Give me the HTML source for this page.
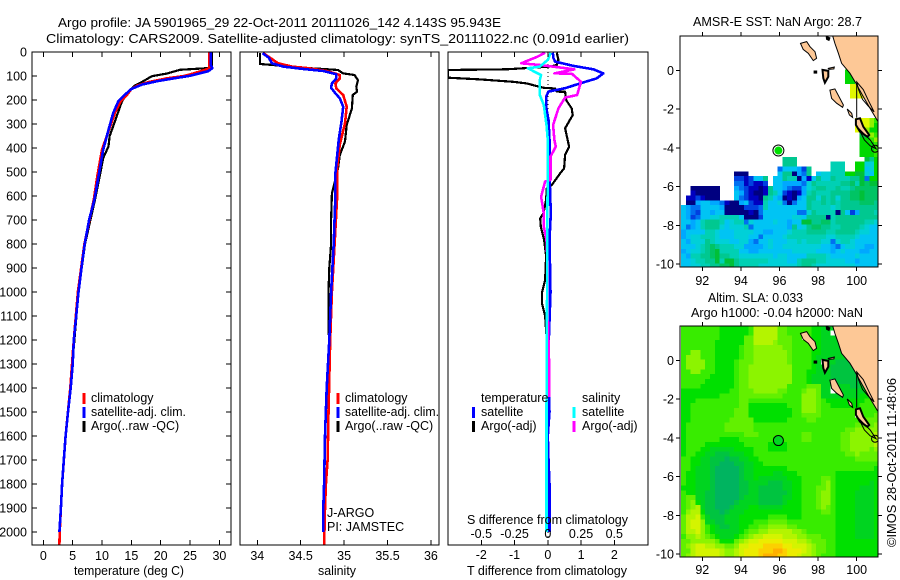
<!DOCTYPE html>
<html>
<head>
<meta charset="utf-8">
<title>Argo profile</title>
<style>
html,body{margin:0;padding:0;background:#fff;}
svg{display:block;}
text{font-family:"Liberation Sans",sans-serif;font-size:12.5px;fill:#000;}
text.big{font-size:13px;}
</style>
</head>
<body>
<svg id="chart" xmlns="http://www.w3.org/2000/svg" width="900" height="580" viewBox="0 0 900 580">
<defs>
<clipPath id="clip-diff"><rect x="448" y="52" width="200" height="493"/></clipPath>
<clipPath id="clip-map1"><rect x="680" y="36" width="198" height="231"/></clipPath>
<clipPath id="clip-map2"><rect x="680" y="326" width="198" height="231"/></clipPath>
</defs>
<rect x="0" y="0" width="900" height="580" fill="#fff"/>
<text class="big" x="58" y="27" textLength="443" lengthAdjust="spacingAndGlyphs">Argo profile: JA 5901965_29 22-Oct-2011 20111026_142 4.143S 95.943E</text>
<text class="big" x="46" y="43" textLength="583" lengthAdjust="spacingAndGlyphs">Climatology: CARS2009. Satellite-adjusted climatology: synTS_20111022.nc (0.091d earlier)</text>
<g id="layer-map1"></g>
<g id="layer-map2"></g>
<g id="layer-temp"></g>
<g id="layer-sal"></g>
<g id="layer-diff"></g>
<text x="74" y="575" textLength="110" lengthAdjust="spacingAndGlyphs">temperature (deg C)</text>
<text x="318" y="575" textLength="38" lengthAdjust="spacingAndGlyphs">salinity</text>
<text x="467" y="575" textLength="160" lengthAdjust="spacingAndGlyphs">T difference from climatology</text>
<text x="467" y="524" textLength="161" lengthAdjust="spacingAndGlyphs">S difference from climatology</text>
<text x="91" y="402">climatology</text>
<text x="91" y="416" textLength="95" lengthAdjust="spacingAndGlyphs">satellite-adj. clim.</text>
<text x="91" y="430">Argo(..raw -QC)</text>
<text x="345" y="402">climatology</text>
<text x="345" y="416" textLength="94" lengthAdjust="spacingAndGlyphs">satellite-adj. clim.</text>
<text x="345" y="430">Argo(..raw -QC)</text>
<text x="327" y="517">J-ARGO</text>
<text x="327" y="531">PI: JAMSTEC</text>
<text x="481" y="402">temperature</text>
<text x="582" y="402">salinity</text>
<text x="481" y="416">satellite</text>
<text x="582" y="416">satellite</text>
<text x="481" y="430">Argo(-adj)</text>
<text x="582" y="430">Argo(-adj)</text>
<text x="693" y="26" textLength="169" lengthAdjust="spacingAndGlyphs">AMSR-E SST: NaN Argo: 28.7</text>
<text x="708" y="302" textLength="95" lengthAdjust="spacingAndGlyphs">Altim. SLA: 0.033</text>
<text x="691" y="317" textLength="172" lengthAdjust="spacingAndGlyphs">Argo h1000: -0.04 h2000: NaN</text>
<text transform="translate(896,547) rotate(-90)" textLength="169" lengthAdjust="spacingAndGlyphs">©IMOS 28-Oct-2011 11:48:06</text>
</svg>
<script>
/* ---------- chart data ---------- */
const depthTicks = [0,100,200,300,400,500,600,700,800,900,1000,1100,1200,1300,1400,1500,1600,1700,1800,1900,2000];
const tempTicks = [0,5,10,15,20,25,30];
const salTicks = [34,34.5,35,35.5,36];
const salTickLabels = ['34','34.5','35','35.5','36'];
const diffTempTicks = [-2,-1,0,1,2];
const diffSalTicks = [-0.5,-0.25,0,0.25,0.5];
const diffSalLabels = ['-0.5','-0.25','0','0.25','0.5'];
const lonTicks = [92,94,96,98,100];
const latTicks = [0,-2,-4,-6,-8,-10];

const tempClimDepth = [0,67,75,90,100,110,125,140,155,180,205,254,324,407,518,615,800,1000,1200,1400,1600,1800,2000,2054];
const tempClim = [28.3,28.3,27.5,25.5,24,21,18,16,15,14.2,13.2,12.2,11.2,10.0,9.2,8.6,7.0,5.9,5.2,4.6,3.8,3.2,2.8,2.75];
const tempArgoDepth = [0,60,67,74,90,101,122,140,164,205,289,351,393,442,518,615,800,1000,1200,1450];
const tempArgo = [28.7,28.7,28.1,23.3,21,18.5,17,15.6,14.5,13.4,12.2,11.3,11.1,10.2,9.6,8.8,7.1,6.0,5.3,4.4];
const tempSatDepth = [0,53,67,80,99,110,122,136,154,178,205,254,324,407,518,615,700,800,900,1000,1100,1200,1300,1400,1500,1600,1700,1800,1900,2000];
const tempSat = [28.5,28.5,28.8,28.1,25,22.2,19.3,16.8,15,13.9,12.8,11.9,11.1,10.2,9.4,8.7,7.8,7.05,6.5,6.0,5.6,5.2,5.0,4.66,4.2,3.8,3.5,3.2,3.0,2.75];

const salClimDepth = [5,47,61,68,79,96,110,131,152,179,228,297,385,485,600,800,1000,1200,1500,1700,1800,1900,2054];
const salClim = [34.07,34.24,34.4,34.6,34.8,34.95,34.95,34.9,34.91,34.99,35.03,35.01,34.95,34.92,34.92,34.89,34.86,34.84,34.82,34.81,34.79,34.78,34.77];
const salArgoDepth = [5,50,54,65,71,75,89,96,117,145,165,179,235,304,373,429,485,590,700,800,900,1000,1100,1180];
const salArgo = [34.03,34.03,34.18,34.49,34.76,34.93,34.99,35.12,35.16,35.14,35.15,35.1,35.09,35.03,35.01,34.95,34.93,34.86,34.85,34.85,34.83,34.82,34.82,34.82];
const salSatDepth = [5,23,47,61,71,79,93,110,131,149,172,193,228,290,360,429,505,600,800,1000,1200,1400,1600,1800,1900,2000];
const salSat = [34.06,34.13,34.17,34.3,34.53,34.76,34.91,34.91,34.86,34.85,34.9,34.95,34.99,34.97,34.94,34.92,34.9,34.9,34.88,34.85,34.83,34.8,34.78,34.77,34.76,34.76];

const diffTempSatDepth = [3,26,40,58,72,89,110,131,151,165,186,228,283,367,506,672,783,1000,1200,1400,1500,1600,1700,1800,2000];
const diffTempSat = [0.15,0.17,0.22,0.77,1.37,1.67,1.47,0.97,0.52,0.02,-0.05,-0.05,0.02,0.05,0.05,0.09,0.05,0.08,0.03,0.03,0.05,0,0.02,0.05,0.05];
const diffTempArgoDepth = [3,33,54,61,72,75,107,114,124,131,149,152,165,166,200,235,263,318,394,429,485,506,554,568,617,672,693,728,783,850,950,1000,1050,1100,1200,1300,1500,1617];
const diffTempArgo = [0.27,0.32,0.27,0.07,-1.24,-3,-3,-2.04,-1.04,-0.64,-0.13,0.22,0.27,0.52,0.55,0.72,0.75,0.52,0.64,0.52,0.49,0.37,0.12,-0.03,-0.05,-0.13,-0.23,-0.21,-0.11,-0.05,-0.08,-0.17,-0.17,-0.08,-0.03,0,0.02,0];
const diffSalSatDepth = [3,20,33,61,68,96,117,179,221,304,367,506,783,1000,1500,2000];
const diffSalSat = [0.02,0.01,0,-0.06,-0.15,-0.05,-0.06,-0.06,-0.03,-0.01,0,0,-0.005,-0.005,-0.01,-0.01];
const diffSalArgoDepth = [3,20,47,54,72,89,90,124,179,190,235,304,367,394,436,533,540,603,672,728,783,900,1100,1300,1437];
const diffSalArgo = [-0.02,-0.08,-0.2,-0.06,0.2,0.05,0.18,0.25,0.22,0.13,0.08,0.04,0.05,0.06,0.02,0.02,-0.02,-0.05,-0.03,-0.03,-0.01,0,0,0.01,0.01];

/* map grids: one character per 0.25 degree cell, '.' = no data */
const sstRows = [
"","","","","","","",
".......... .......... .......... ....bb",
".......... .......... .......... ....bb",
".......... .......... .......... ....bb",
".......... .......... .......... .....eee",
".......... .......... .......... .....eee",
".......... .......... .......... .....eee",
"","","","",
".......... .......... .......... ......eeed c",
".......... .......... .......... ......eeed b",
".......... .......... .......... ......e.db b",
".......... .......... .......... .......a9d c",
".......... .......... .......... .......bbc d",
".......... .......... .......... .......bbb c",
".......... .......... .......... .......bbb c",
".......... .......... .......... .......bbb c",
".......... .......... .888...... ........a8 b",
".......... .......... .888...... .777..bb66 b",
".......... .......... 3555428... .777..bb56 b",
".......... .000...... 5880438.56 6777bbaa65 b",
".......... .2212558.5 5877041586 6877788a3b b",
".......... .3312112.5 5444436877 7778897a9a a",
"..000000.. .432110185 5432246788 7787789999 9",
"..100000.. .542100187 5210147877 7888899a99 9",
".1121000.. .532110875 4010458868 7868899a99 9",
".004554431 0045211755 6303558778 7878888999 8",
"5433555540 0002223755 5555558777 7678888888 8",
"5432554550 0000103555 5555336877 7708524888 7",
"5423556677 7750002555 5556658888 0788888888 8",
"5545788875 6773655556 55455aa889 9788888877 6",
"5345788865 6667355555 5548568998 8778888765 5",
"4555577655 5666655445 5567778888 7788887665 5",
"4566777655 5666553555 5677777777 6677776555 5",
"5466687666 5566435565 5566767776 6367765555 5",
"5556789877 7664444565 5666666665 5435665544 5",
"4566789a77 7755445555 5556666655 5456555445 5",
"5477889a88 7766666665 6655557777 6555556555 5",
"5567788a7a a877777766 6655788877 6666554555 5",
"5566778899 a877776666 6666788766 6666665555 5"
];
const slaRows = [
"4444444433 3333477777 5544444332 2222222222 2",
"4444444433 3333477777 5544444332 2.22222222 2",
"4444444433 3335577777 55544.4332 2222222222 2",
"4444444333 3335577776 5554444332 2222222222 2",
"4444444333 3345566666 6554444332 2222222222 2",
"4466444333 3345566666 6654444332 2222222222 2",
"4666444333 3345566666 6654444322 2222222222 2",
"4666644333 3455566666 665444432. 22111.2222 2",
"4666644333 3455666666 6664444322 2111111222 2",
"4466444333 3455666666 6664443322 2111111222 2",
"4444443333 3455666666 6664443222 2111111222 2",
"4444433333 3455666666 6664443222 2.11111222 2",
"4444333333 3455666666 6644445552 2.22211222 2",
"3333333333 4455566666 5544456652 2.22222233 3",
"3333333344 4455555555 5444466652 2222222333 3",
"3334444444 4455444444 4444466654 3333333344 4",
"3344444444 4455333333 3344466654 4333333444 4",
"3344444444 4555333333 3334466654 4444444444 4",
"3344444444 4555333333 3334455554 444444.444 5",
"3344444444 5555533333 3344445544 4444444555 5",
"3444444445 5555544444 4444444444 4444445555 6",
"3444444445 5555544444 4444444444 4444556666 6",
"3444444444 4445554444 4444455444 4445566666 7",
"3444444433 3344444443 3444455444 4445566666 7",
"3444433333 3334444433 3344444444 4445566666 7",
"3444332222 2333344433 3344444444 4445566665 6",
"3443322111 2223344444 4444444444 4444556555 5",
"4433221110 1122334444 4444444444 4444445555 5",
"4433221100 0112233444 4444444444 4444444444 4",
"4432221000 0012233333 3344444444 4444444444 3",
"4332221000 0012233332 2333444444 4433333333 3",
"4332221000 0012232222 2233344445 5433333333 3",
"4332221000 0011222211 1223344445 6433333332 3",
"3332221000 0011221111 1223344455 6433333222 3",
"4332211000 0011221111 1123344456 6433332222 3",
"4552211000 0012221111 1223344456 6433332222 3",
"4563211000 0122221111 1233344456 6433332222 3",
"4567211000 1222332222 2333344456 5433332222 3",
"4677311101 2223333333 3333344445 5433332222 3",
"5778421112 2233333344 4433344444 4433332222 3",
"5788622112 2233344455 5544444444 4433332222 3",
"5788643211 2233445566 6655444444 4433332222 3",
"5778643222 2234556677 7776654444 4433332222 3",
"4667654322 2345677888 8777665554 4433332222 3",
"5566666533 3567889999 9888776555 4433333333 3",
"5678877665 5688999AAA A998887655 4433333333 3",
"5578888876 678999AAAB BA99987655 4433333333 3",
"5678888876 678999ABBB AA99877654 4433333333 3"
];

/* geography in degrees */
const landLons = [98.75,98.87,99.05,99.22,99.65,99.91,100.34,100.69,101.08,101.3,101.3];
const landLats = [1.79,1.39,0.88,0.36,-0.15,-0.59,-1.36,-1.96,-2.6,-2.6,1.9];
const islandLons = [
 [97.09,97.41,97.58,97.84,97.92,97.75,97.49,97.23],
 [98.23,98.53,98.53,98.35,98.27],
 [98.53,98.84,98.82,98.56],
 [98.61,98.87,99.13,99.31,99.27,98.96,98.70],
 [99.51,99.74,99.79,99.62],
 [99.96,100.17,100.34,100.65,100.55,100.17,99.96],
 [98.45,98.58,98.55,98.46],
 [97.82,97.9,97.9,97.82]
];
const islandLats = [
 [1.39,1.48,1.22,0.96,0.62,0.50,0.88,1.08],
 [0.02,-0.03,-0.33,-0.64,-0.41],
 [0.10,0.17,0.07,0.05],
 [-1.02,-0.96,-1.45,-1.79,-1.91,-1.70,-1.45],
 [-2.0,-2.22,-2.43,-2.31],
 [-2.53,-2.48,-2.91,-3.34,-3.43,-3.17,-2.82],
 [1.72,1.66,1.58,1.62],
 [-0.06,-0.06,-0.12,-0.12]
];
const contourLons = [
 [100,100,100.34,100.6,100.9,100.6,100.3,100.1,100],
 [100.1,100.4,100.7,101,100.7,100.4,100.1]
];
const contourLats = [
 [-2.45,-0.6,-1.0,-1.55,-2.15,-1.85,-1.5,-1.0,-0.6],
 [-3.0,-3.3,-3.6,-4.05,-3.9,-3.6,-3.0]
];
const floatLon = 95.943;
const floatLat = -4.143;

/* ---------- colour keys ---------- */
const sstColors = {'0':'#000080','1':'#0000c0','2':'#0040e0','3':'#0070f0','4':'#00a8ff','5':'#00c4f4','6':'#00d0d8','7':'#00d0b4','8':'#00c890','9':'#00c464','a':'#00c038','b':'#00d800','c':'#30e800','d':'#90f000','e':'#e0f800'};
const slaColors = {'0':'#00b460','1':'#00c440','2':'#00d420','3':'#00e000','4':'#38ec00','5':'#62f000','6':'#8cf400','7':'#b4f400','8':'#d4f400','9':'#ecec00','A':'#fcd000','B':'#ffb000'};

/* ---------- axis functions ---------- */
function depthY(d){return 52+0.24*d;}
function tempX(t){return 43.3+5.87*t;}
function salX(s){return 257.3+86.8*(s-34);}
function diffTX(t){return 547.8+33.25*t;}
function diffSX(s){return 547.8+133*s;}
function lonX(l){return 702.3+(l-92)*19.3;}
function lat1Y(l){return 70.3-l*19.37;}
function lat2Y(l){return 360.3-l*19.37;}

const NS='http://www.w3.org/2000/svg';
function mk(parent,tag,attrs,txt){
  const el=document.createElementNS(NS,tag);
  for(const k in attrs){el.setAttribute(k,attrs[k]);}
  if(txt!==undefined){el.textContent=txt;}
  parent.appendChild(el);
  return el;
}
function name(el,n){
  
  
  return el;
}
function tickLine(g,x1,y1,x2,y2){
  const el=mk(g,'line',{x1:x1,y1:y1,x2:x2,y2:y2,stroke:'#000','stroke-width':1,'shape-rendering':'crispEdges'});
  
  
}
function frame(g,x,y,w,h){
  const el=mk(g,'rect',{x:x,y:y,width:w,height:h,fill:'none',stroke:'#000','stroke-width':1,'shape-rendering':'crispEdges'});
  
  
}
function series(g,depths,vals,xf,color,w,label,clip){
  const pts=depths.map((d,i)=>xf(vals[i]).toFixed(1)+','+depthY(d).toFixed(1)).join(' ');
  const el=mk(g,'polyline',{points:pts,fill:'none',stroke:color,'stroke-width':w,'stroke-linejoin':'round','shape-rendering':'crispEdges'});
  if(clip){el.setAttribute('clip-path',clip);}
  name(el,label);
}
function legendMark(g,x,y,color,label){
  const el=mk(g,'rect',{x:x-1.5,y:y,width:3,height:11,fill:color,'shape-rendering':'crispEdges'});
  name(el,label);
}

/* ---------- temperature panel ---------- */
const gT=document.getElementById('layer-temp');
series(gT,tempArgoDepth,tempArgo,tempX,'#000',2.2,'temperature-argo-line');
series(gT,tempClimDepth,tempClim,tempX,'#f00',2.6,'temperature-climatology-line');
series(gT,tempSatDepth,tempSat,tempX,'#00f',2.6,'temperature-satellite-line');
frame(gT,32,52,199,493);
depthTicks.forEach(d=>{
  tickLine(gT,32,depthY(d),37,depthY(d));
  tickLine(gT,226,depthY(d),231,depthY(d));
  const t=mk(gT,'text',{x:27,y:depthY(d)+4.5,'text-anchor':'end'},String(d));
  
  
});
tempTicks.forEach(v=>{
  tickLine(gT,tempX(v),52,tempX(v),57);
  tickLine(gT,tempX(v),540,tempX(v),545);
  const t=mk(gT,'text',{x:tempX(v),y:560,'text-anchor':'middle'},String(v));
  
  
});
legendMark(gT,84,393,'#f00','temp-legend-climatology-mark');
legendMark(gT,84,407,'#00f','temp-legend-satellite-mark');
legendMark(gT,84,421,'#000','temp-legend-argo-mark');

/* ---------- salinity panel ---------- */
const gS=document.getElementById('layer-sal');
series(gS,salArgoDepth,salArgo,salX,'#000',2.2,'salinity-argo-line');
series(gS,salClimDepth,salClim,salX,'#f00',2.6,'salinity-climatology-line');
series(gS,salSatDepth,salSat,salX,'#00f',2.6,'salinity-satellite-line');
frame(gS,240,52,199,493);
salTicks.forEach((v,i)=>{
  tickLine(gS,salX(v),52,salX(v),57);
  tickLine(gS,salX(v),540,salX(v),545);
  const t=mk(gS,'text',{x:salX(v),y:560,'text-anchor':'middle'},salTickLabels[i]);
  
  
});
legendMark(gS,338,393,'#f00','sal-legend-climatology-mark');
legendMark(gS,338,407,'#00f','sal-legend-satellite-mark');
legendMark(gS,338,421,'#000','sal-legend-argo-mark');

/* ---------- difference panel ---------- */
const gD=document.getElementById('layer-diff');
const zero=mk(gD,'line',{x1:diffTX(0),y1:depthY(0),x2:diffTX(0),y2:545,stroke:'#000','stroke-width':1,'stroke-dasharray':'1 3','shape-rendering':'crispEdges'});


series(gD,diffTempArgoDepth,diffTempArgo,diffTX,'#000',2.2,'t-difference-argo-line','url(#clip-diff)');
series(gD,diffTempSatDepth,diffTempSat,diffTX,'#00f',2.6,'t-difference-satellite-line','url(#clip-diff)');
series(gD,diffSalArgoDepth,diffSalArgo,diffSX,'#f0f',2.6,'s-difference-argo-line','url(#clip-diff)');
series(gD,diffSalSatDepth,diffSalSat,diffSX,'#0ff',2.6,'s-difference-satellite-line','url(#clip-diff)');
frame(gD,448,52,200,493);
diffTempTicks.forEach(v=>{
  tickLine(gD,diffTX(v),52,diffTX(v),57);
  tickLine(gD,diffTX(v),540,diffTX(v),545);
  const t=mk(gD,'text',{x:diffTX(v),y:559,'text-anchor':'middle'},String(v));
  
  
});
diffSalTicks.forEach((v,i)=>{
  const t=mk(gD,'text',{x:diffSX(v),y:538,'text-anchor':'middle'},diffSalLabels[i]);
  
  
});
legendMark(gD,473.7,407,'#00f','diff-legend-temp-satellite-mark');
legendMark(gD,473.7,421,'#000','diff-legend-temp-argo-mark');
legendMark(gD,574,407,'#0ff','diff-legend-sal-satellite-mark');
legendMark(gD,574,421,'#f0f','diff-legend-sal-argo-mark');

/* ---------- maps ---------- */
function drawGrid(g,rows,colors,latY,cellName){
  rows.forEach((row,r)=>{
    const chars=row.replace(/ /g,'');
    for(let c=0;c<chars.length;c++){
      const col=colors[chars[c]];
      if(!col){continue;}
      const lon=90.9+0.25*c;
      const lat=1.786-0.25*r;
      const cell=mk(g,'rect',{x:lonX(lon).toFixed(2),y:latY(lat).toFixed(2),width:4.9,height:4.9,fill:col,'shape-rendering':'crispEdges'});
      
      
    }
  });
}
function drawGeo(g,latY,clip){
  const inner=mk(g,'g',{'clip-path':clip});
  
  
  const land=mk(inner,'polygon',{points:landLons.map((l,i)=>lonX(l).toFixed(1)+','+latY(landLats[i]).toFixed(1)).join(' '),fill:'#fdc896',stroke:'#000','stroke-width':1});
  
  
  islandLons.forEach((lons,k)=>{
    const isl=mk(inner,'polygon',{points:lons.map((l,i)=>lonX(l).toFixed(1)+','+latY(islandLats[k][i]).toFixed(1)).join(' '),fill:'#fdc896',stroke:'#000','stroke-width':k===1||k===5||k>=6?2:1});
    
    
  });
  contourLons.forEach((lons,k)=>{
    const ln=mk(inner,'polyline',{points:lons.map((l,i)=>lonX(l).toFixed(1)+','+latY(contourLats[k][i]).toFixed(1)).join(' '),fill:'none',stroke:'#000','stroke-width':1});
    
    
  });
  const ring=mk(inner,'circle',{cx:lonX(100.95),cy:latY(-4.05),r:3.5,fill:'none',stroke:'#000','stroke-width':1});
  
  
}
function drawMapAxes(g,top,bottom,latY,labelY,axisName){
  frame(g,680,top,198,bottom-top);
  lonTicks.forEach(v=>{
    tickLine(g,lonX(v),top-4,lonX(v),top);
    tickLine(g,lonX(v),bottom,lonX(v),bottom+4);
    const t=mk(g,'text',{x:lonX(v),y:labelY,'text-anchor':'middle'},String(v));
    
    
  });
  latTicks.forEach(v=>{
    tickLine(g,676,latY(v),680,latY(v));
    tickLine(g,878,latY(v),882,latY(v));
    const t=mk(g,'text',{x:674,y:latY(v)+4.5,'text-anchor':'end'},String(v));
    
    
  });
}

const g1=document.getElementById('layer-map1');
const grid1=mk(g1,'g',{'clip-path':'url(#clip-map1)'});


drawGrid(grid1,sstRows,sstColors,lat1Y,'sst-cell');
drawGeo(g1,lat1Y,'url(#clip-map1)');
drawMapAxes(g1,36,267,lat1Y,285,'sst-map');
const halo=mk(g1,'circle',{cx:lonX(floatLon),cy:lat1Y(floatLat),r:5.5,fill:'#fff',stroke:'#000','stroke-width':1});


const dot=mk(g1,'circle',{cx:lonX(floatLon),cy:lat1Y(floatLat),r:4,fill:'#00e000'});



const g2=document.getElementById('layer-map2');
const grid2=mk(g2,'g',{'clip-path':'url(#clip-map2)'});


drawGrid(grid2,slaRows,slaColors,lat2Y,'sla-cell');
drawGeo(g2,lat2Y,'url(#clip-map2)');
drawMapAxes(g2,326,557,lat2Y,574,'sla-map');
const halo2=mk(g2,'circle',{cx:lonX(floatLon),cy:lat2Y(floatLat),r:5,fill:'#00d820',stroke:'#000','stroke-width':1});


</script>
</body>
</html>
